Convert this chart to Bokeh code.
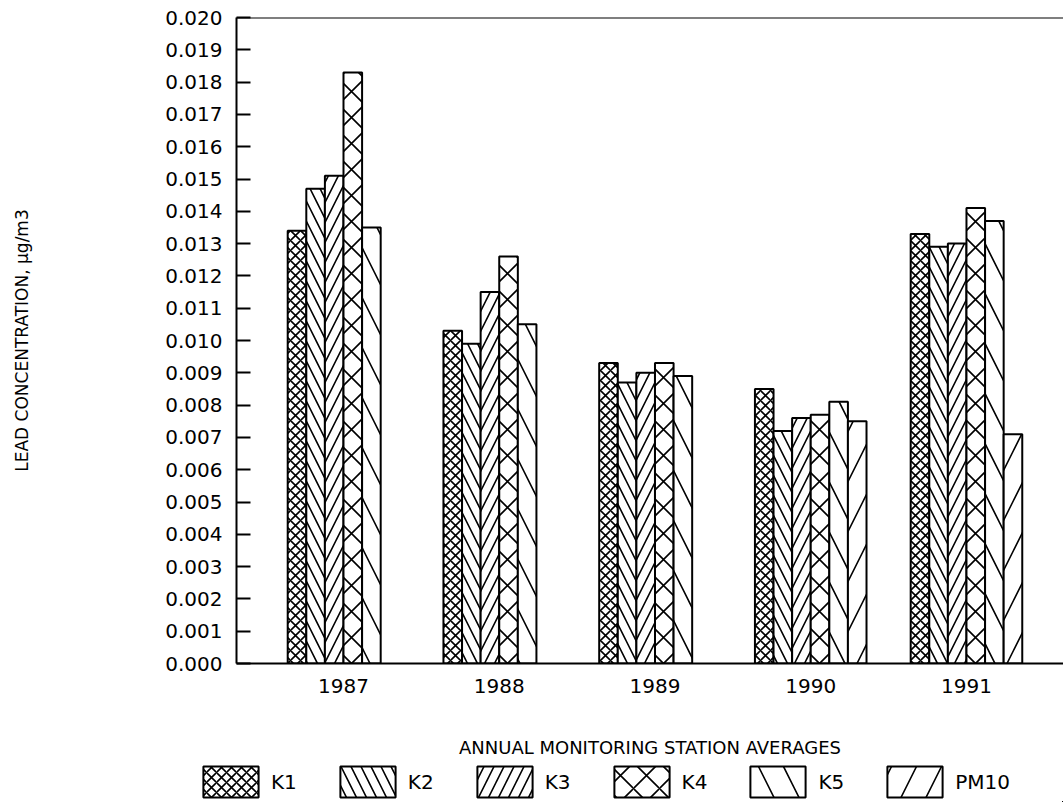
import numpy as np
from bokeh.plotting import figure
from bokeh.layouts import column
from bokeh.models import (ColumnDataSource, FixedTicker, NumeralTickFormatter, Range1d,
                          Legend, LegendItem, Span)
from bokeh.transform import dodge
from bokeh.embed import file_html
from bokeh.resources import INLINE

years = [1987, 1988, 1989, 1990, 1991]
series = ["K1", "K2", "K3", "K4", "K5", "PM10"]
k1 = [0.0134, 0.0103, 0.0093, 0.0085, 0.0133]
k2 = [0.0147, 0.0099, 0.0087, 0.0072, 0.0129]
k3 = [0.0151, 0.0115, 0.0090, 0.0076, 0.0130]
k4 = [0.0183, 0.0126, 0.0093, 0.0077, 0.0141]
k5 = [0.0135, 0.0105, 0.0089, 0.0081, 0.0137]
pm10 = [np.nan, np.nan, np.nan, 0.0075, 0.0071]
y_ticks = [round(i * 0.001, 3) for i in range(21)]

values = [k1, k2, k3, k4, k5, pm10]
hatches = ["x", "\\", "/", "x", "\\", "/"]
scales = [10, 20, 20, 26, 50, 50]

FONT = "DejaVu Sans"

p = figure(width=1063, height=761, output_backend="svg", toolbar_location=None,
           x_range=Range1d(1986.313, 1991.623), y_range=Range1d(0, 0.020),
           min_border_left=236, min_border_top=17, min_border_right=0,
           min_border_bottom=98)
p.outline_line_color = None
p.grid.visible = False
p.background_fill_color = "white"

# legend strip: a second figure whose view range excludes the data
lg = figure(width=1063, height=41, output_backend="svg", toolbar_location=None,
            x_range=Range1d(0, 1), y_range=Range1d(0, 1),
            x_axis_type=None, y_axis_type=None,
            min_border_left=0, min_border_right=0, min_border_top=0, min_border_bottom=0)
lg.frame_align = False
lg.outline_line_color = None
lg.grid.visible = False

bw = 0.1194
items = []
for i, (name, vals) in enumerate(zip(series, values)):
    style = dict(fill_color="white", line_color="black", line_width=2,
                 hatch_pattern=hatches[i], hatch_scale=scales[i], hatch_weight=1.6,
                 hatch_color="black")
    src = ColumnDataSource(dict(year=years, v=vals))
    xs = dodge("year", (i - 2.5) * bw)
    p.vbar(x=xs, top="v", width=bw, source=src, **style)
    r2 = lg.vbar(x=xs, top="v", width=bw, source=src, **style)
    items.append(LegendItem(label=name, renderers=[r2]))

p.add_layout(Span(location=0.020, dimension="width", line_color="black", line_width=2))

# y axis
ya = p.yaxis[0]
ya.ticker = FixedTicker(ticks=y_ticks)
ya.formatter = NumeralTickFormatter(format="0.000")
ya.major_tick_in = 14
ya.major_tick_out = 0
ya.minor_tick_line_color = None
ya.axis_line_width = 2
ya.major_tick_line_width = 2
ya.major_label_standoff = 14
ya.major_label_text_font = FONT
ya.major_label_text_font_size = "20px"
ya.major_label_text_color = "black"
ya.axis_label = "LEAD CONCENTRATION, μg/m3"
ya.axis_label_text_font = FONT
ya.axis_label_text_font_size = "17px"
ya.axis_label_text_font_style = "normal"
ya.axis_label_text_color = "black"
ya.axis_label_standoff = 130

# x axis
xa = p.xaxis[0]
xa.ticker = FixedTicker(ticks=years)
xa.major_tick_line_color = None
xa.minor_tick_line_color = None
xa.axis_line_width = 2
xa.major_label_standoff = 9
xa.major_label_text_font = FONT
xa.major_label_text_font_size = "20px"
xa.major_label_text_color = "black"
xa.axis_label = "ANNUAL MONITORING STATION AVERAGES"
xa.axis_label_text_font = FONT
xa.axis_label_text_font_size = "18px"
xa.axis_label_text_font_style = "normal"
xa.axis_label_text_color = "black"
xa.axis_label_standoff = 41

legend = Legend(items=items, orientation="horizontal", location=(196, 1),
                glyph_width=69, glyph_height=39, label_standoff=6, spacing=36,
                padding=0, margin=0, border_line_color=None, background_fill_alpha=0,
                label_text_font=FONT, label_text_font_size="20px",
                label_text_color="black")
lg.add_layout(legend)

layout = column(p, lg, spacing=0)
open("out.html", "w").write(file_html(layout, INLINE))
